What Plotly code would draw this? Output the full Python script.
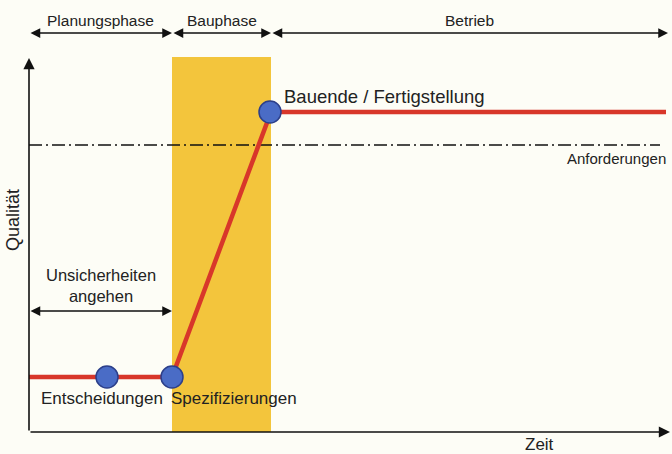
import plotly.graph_objects as go

# ---- data (time units / quality units) ----
phase_names = ["Planungsphase", "Bauphase", "Betrieb"]
phase_bounds = [0.0, 1.43, 2.42, 6.39]

path_t = [0.0, 1.43, 2.42, 6.37]
path_q = [0.55, 0.55, 3.2, 3.2]

milestone_names = ["Entscheidungen", "Spezifizierungen", "Bauende / Fertigstellung"]
milestone_t = [0.78, 1.43, 2.41]
milestone_q = [0.55, 0.55, 3.2]

requirement_label = "Anforderungen"
requirement_q = 2.87
requirement_t = [0.0, 6.31]

uncertainty_label = "Unsicherheiten<br>angehen"
uncertainty_t = [0.0, 1.43]
uncertainty_q = 1.21

axis_x_label = "Zeit"
axis_y_label = "Qualität"
axis_t_max = 6.41
axis_q_max = 3.74
construction_q_top = 3.75

BG = "#fdfdf6"
RED = "#d8372a"
YELLOW = "#f3c53c"
BLUE = "#4a6cc6"
TXT = "#222222"
FONT = "Liberation Sans, Arial, sans-serif"

fig = go.Figure()

# Bauphase band
fig.add_shape(type="rect", x0=phase_bounds[1], x1=phase_bounds[2], y0=0, y1=construction_q_top,
              fillcolor=YELLOW, line_width=0, layer="below")

# requirement line
fig.add_trace(go.Scatter(x=requirement_t, y=[requirement_q, requirement_q], mode="lines",
                         line=dict(color="#111111", width=1.4, dash="13px,4px,2px,4px"),
                         hoverinfo="skip", showlegend=False))

# quality path
fig.add_trace(go.Scatter(x=path_t, y=path_q, mode="lines",
                         line=dict(color=RED, width=4.5), hoverinfo="skip", showlegend=False))

# milestones
fig.add_trace(go.Scatter(x=milestone_t, y=milestone_q, mode="markers",
                         marker=dict(size=22, color=BLUE, line=dict(color="#2c3f8a", width=1.5)),
                         hoverinfo="skip", showlegend=False))

ann = []

def arrow(x0, y0, x1, y1, both=True, width=1.5, size=1.4):
    ann.append(dict(x=x1, y=y1, ax=x0, ay=y0, xref="x", yref="y", axref="x", ayref="y",
                    text="", showarrow=True, arrowhead=2, startarrowhead=2,
                    arrowside="end+start" if both else "end",
                    arrowsize=size, startarrowsize=size, arrowwidth=width, arrowcolor="#111111",
                    standoff=0, startstandoff=0))

def label(x, y, text, size=15, xanchor="center", angle=0):
    ann.append(dict(x=x, y=y, xref="x", yref="y", text=text, showarrow=False,
                    xanchor=xanchor, yanchor="middle", textangle=angle,
                    font=dict(family=FONT, size=size, color=TXT)))

# axes
arrow(0, 0, axis_t_max, 0, both=False, width=1.6)
arrow(0, 0, 0, axis_q_max, both=False, width=1.6)
label(5.10, -0.12, axis_x_label, size=17)
label(-0.16, 2.12, axis_y_label, size=18, angle=-90)

# phase arrows
phase_arrow_q = 3.99
phase_label_q = 4.12
for i, name in enumerate(phase_names):
    a, b = phase_bounds[i], phase_bounds[i + 1]
    arrow(a, phase_arrow_q, b, phase_arrow_q, width=1.3, size=1.5)
    label((a + b) / 2, phase_label_q, name, size=15.5)

# uncertainty arrow
arrow(uncertainty_t[0], uncertainty_q, uncertainty_t[1], uncertainty_q, width=1.3, size=1.5)
label(sum(uncertainty_t) / 2, uncertainty_q + 0.255, uncertainty_label, size=16.5)

# milestone labels
label(milestone_t[0] - 0.05, milestone_q[0] - 0.21, milestone_names[0], size=17)
label(milestone_t[1] - 0.03, milestone_q[1] - 0.21, milestone_names[1], size=17, xanchor="left")
label(milestone_t[2] + 0.12, milestone_q[2] + 0.16, milestone_names[2], size=18.5, xanchor="left")

# requirement label
label(phase_bounds[3], requirement_q - 0.13, requirement_label, size=15, xanchor="right")

fig.update_layout(
    width=672, height=454,
    margin=dict(l=0, r=0, t=0, b=0),
    paper_bgcolor=BG, plot_bgcolor=BG,
    xaxis=dict(range=[-0.29, 6.43], visible=False, fixedrange=True),
    yaxis=dict(range=[-0.22, 4.32], visible=False, fixedrange=True),
    annotations=ann,
    showlegend=False,
)

fig.write_html("out.html", config={"displayModeBar": False},
               post_script="document.body.style.margin='0';document.body.style.overflow='hidden';")
